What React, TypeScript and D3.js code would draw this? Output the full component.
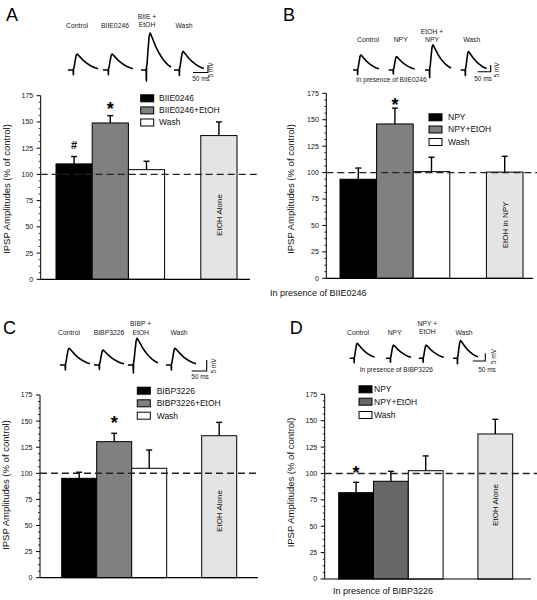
import React from "react";
import * as d3 from "d3";

const FONT = "'Liberation Sans', Arial, Helvetica, sans-serif";

// ---------- data ----------
const yTicks = [0, 25, 50, 75, 100, 125, 150, 175];
const slots = ["c0", "c1", "c2", "gap", "c3"];
const barSlots = ["c0", "c1", "c2", "c3"];

const legendA = ["BIIE0246", "BIIE0246+EtOH", "Wash"];
const meansA = [110, 149, 104.5, 137];
const errA = [7, 7, 8, 13];
const marksA = ["#", "*", "", ""];
const barTextA = "EtOH Alone";
const traceLabelsA = [["Control"], ["BIIE0246"], ["BIIE +", "EtOH"], ["Wash"]];
const traceAmpA = [11, 11, 25.5, 12.8];

const legendB = ["NPY", "NPY+EtOH", "Wash"];
const meansB = [93.7, 146, 100.9, 100.5];
const errB = [10.6, 15, 13.6, 14.9];
const marksB = ["", "*", "", ""];
const barTextB = "EtOH in NPY";
const traceLabelsB = [["Control"], ["NPY"], ["EtOH +", "NPY"], ["Wash"]];
const traceAmpB = [11.2, 9.9, 18.7, 13.7];
const noteB = "In presence of BIIE0246";

const legendC = ["BIBP3226", "BIBP3226+EtOH", "Wash"];
const meansC = [95.2, 130.3, 104.8, 136];
const errC = [5.8, 8, 17.5, 12.8];
const marksC = ["", "*", "", ""];
const barTextC = "EtOH Alone";
const traceLabelsC = [["Control"], ["BIBP3226"], ["BIBP +", "EtOH"], ["Wash"]];
const traceAmpC = [7.6, 6.8, 12.1, 7.6];

const legendD = ["NPY", "NPY+EtOH", "Wash"];
const meansD = [81.8, 92.6, 102.6, 137.4];
const errD = [9.8, 9.4, 14, 13.9];
const marksD = ["*", "", "", ""];
const barTextD = "EtOH Alone";
const traceLabelsD = [["Control"], ["NPY"], ["NPY +", "EtOH"], ["Wash"]];
const traceAmpD = [9.7, 8.6, 8.6, 11.5];
const noteD = "In presence of BIBP3226";

// normalised IPSP waveform (time ms, fraction of peak)
const waveT = [0, 14, 17, 18, 18.5, 20, 23, 27, 30, 33, 40, 50, 60, 70, 80, 90, 100];
const waveV = [0, 0, 0.02, -0.3, 0.1, 0.15, 0.5, 0.9, 1, 0.96, 0.82, 0.62, 0.46, 0.33, 0.22, 0.14, 0.08];
const scaleBarMs = 50;
const scaleBarMv = 5;
const yLabel = "IPSP Amplitudes (% of control)";

// ---------- layout ----------
const layA = {
  letter: "A", lx: 6, ly: 21,
  axisX: 40.7, y0: 279.3, y175: 95.7, barStart: 56, slot: 36.2, axisEnd: 250, dashEnd: 257,
  gray: "#808080", legX: 140.7, legTX: 159, legY: [98.3, 110.4, 122.5],
  ylx: 6.5, yly: 189, barTextY: 215, markOff: 11,
  trX: [68, 103, 141, 174], trBase: 70, pxMs: 0.3, pxMv: 1.45, labDx: [9, 12, 6, 10], labY: 26, labY2: [17, 25],
  sbX: 208, sbY: 72.5, msX: 201, msY: 79, mvX: 211, mvY: 70,
};
const layB = {
  letter: "B", lx: 283, ly: 21,
  axisX: 326.3, y0: 278.3, y175: 93.3, barStart: 340, slot: 36.6, axisEnd: 533, dashEnd: 537,
  gray: "#808080", legX: 429, legTX: 448, legY: [117.3, 129.5, 142],
  ylx: 290.5, yly: 189, barTextY: 225, markOff: 7.5,
  trX: [353, 388.7, 425, 460.7], trBase: 70, pxMs: 0.26, pxMv: 1.34, labDx: [15, 12, 7, 11], labY: 40, labY2: [31.7, 39.3],
  sbX: 490.7, sbY: 71.7, msX: 483, msY: 78.3, mvX: 497, mvY: 70,
  noteTopX: 391.3, noteTopY: 79.3, noteBotX: 270, noteBotY: 293,
};
const layC = {
  letter: "C", lx: 3, ly: 334,
  axisX: 40, y0: 577.7, y175: 395, barStart: 61.7, slot: 35, axisEnd: 258, dashEnd: 258,
  gray: "#808080", legX: 137.3, legTX: 156.7, legY: [390.7, 403.3, 415.7],
  ylx: 6, yly: 485, barTextY: 511, markOff: 15,
  trX: [60, 94, 128, 166], trBase: 365, pxMs: 0.3, pxMv: 2.2, labDx: [9, 15, 12.7, 13], labY: 332.3, labY2: [324, 332.3],
  sbX: 206.7, sbY: 371, msX: 200, msY: 376.3, mvX: 213.3, mvY: 366,
};
const layD = {
  letter: "D", lx: 289.7, ly: 334,
  axisX: 324.7, y0: 579, y175: 394.3, barStart: 338.7, slot: 34.8, axisEnd: 531, dashEnd: 537,
  gray: "#676767", legX: 359, legTX: 374, legY: [389.3, 401.7, 415],
  ylx: 290.3, yly: 482.5, barTextY: 505, markOff: 14,
  trX: [349.7, 386, 418.7, 453], trBase: 358.3, pxMs: 0.25, pxMv: 1.54, labDx: [8.3, 8.7, 8.6, 11], labY: 332.7, labY2: [324, 331.7],
  sbX: 485.3, sbY: 361, msX: 487, msY: 370, mvX: 493.5, mvY: 356.5,
  noteTopX: 396.3, noteTopY: 369.3, noteBotX: 333, noteBotY: 590.7,
};

type Lay = typeof layA & { noteTopX?: number; noteTopY?: number; noteBotX?: number; noteBotY?: number };

function Panel(props: {
  lay: Lay; legend: string[]; means: number[]; errs: number[]; marks: string[]; barText: string;
  traceLabels: string[][]; traceAmp: number[]; note?: string;
}) {
  const { lay, legend, means, errs, marks, barText, traceLabels, traceAmp, note } = props;
  const y = d3.scaleLinear().domain([0, 175]).range([lay.y0, lay.y175]);
  const x = d3.scaleBand<string>().domain(slots).range([lay.barStart, lay.barStart + lay.slot * slots.length]).padding(0);
  const fills = ["#000000", lay.gray, "#ffffff", "#e4e4e4"];
  const minor = d3.range(0, 175.01, 6.25).filter((v) => v % 25 !== 0);
  const tms = d3.scaleLinear().domain([0, 1]).range([0, lay.pxMs]);
  const tmv = d3.scaleLinear().domain([0, 1]).range([0, lay.pxMv]);
  const lineGen = d3.line<[number, number]>().x((d) => d[0]).y((d) => d[1]).curve(d3.curveLinear);

  return (
    <g fontFamily={FONT}>
      <text x={lay.lx} y={lay.ly} fontSize={18}>{lay.letter}</text>

      {/* traces */}
      {traceAmp.map((amp, i) => {
        const pts: [number, number][] = waveT.map((t, k) => [lay.trX[i] + tms(t), lay.trBase - tmv(amp * waveV[k])]);
        return <path key={"tr" + i} d={lineGen(pts) || ""} fill="none" stroke="#000" strokeWidth={1.6} strokeLinejoin="round" />;
      })}
      {traceLabels.map((lines, i) =>
        lines.map((s, j) => (
          <text key={"tl" + i + j} x={lay.trX[i] + lay.labDx[i]} y={(lines.length === 1 ? lay.labY : lay.labY2[j]) + 2.4}
            fontSize={6.8} textAnchor="middle" fill="#222">{s}</text>
        ))
      )}
      {/* scale bar */}
      <path d={`M${lay.sbX - tms(scaleBarMs)},${lay.sbY}H${lay.sbX}V${lay.sbY - tmv(scaleBarMv)}`} fill="none" stroke="#000" strokeWidth={1.1} />
      <text x={lay.msX} y={lay.msY + 2.3} fontSize={6.5} textAnchor="middle" fill="#222">{scaleBarMs} ms</text>
      <text transform={`translate(${lay.mvX},${lay.mvY}) rotate(-90)`} dy="0.35em" fontSize={6.5} textAnchor="middle" fill="#222">{scaleBarMv} mV</text>
      {note && lay.noteTopX !== undefined && (
        <text x={lay.noteTopX} y={(lay.noteTopY as number) + 2.3} fontSize={6.6} textAnchor="middle" fill="#222">{note}</text>
      )}
      {note && lay.noteBotX !== undefined && (
        <text x={lay.noteBotX} y={(lay.noteBotY as number) + 3.2} fontSize={9} fill="#111">{note}</text>
      )}

      {/* bars */}
      {barSlots.map((s, i) => (
        <rect key={"b" + i} x={x(s)} y={y(means[i])} width={x.bandwidth()} height={y(0) - y(means[i])}
          fill={fills[i]} stroke="#000" strokeWidth={1} />
      ))}
      {barSlots.map((s, i) => {
        const cx = (x(s) as number) + x.bandwidth() / 2;
        return (
          <g key={"e" + i} stroke="#000" strokeWidth={1.4}>
            <line x1={cx} x2={cx} y1={y(means[i])} y2={y(means[i] + errs[i])} />
            <line x1={cx - 3} x2={cx + 3} y1={y(means[i] + errs[i])} y2={y(means[i] + errs[i])} />
          </g>
        );
      })}
      {barSlots.map((s, i) => {
        if (!marks[i]) return null;
        const cx = (x(s) as number) + x.bandwidth() / 2;
        const cy = y(means[i] + errs[i]) - lay.markOff;
        return marks[i] === "*" ? (
          <text key={"m" + i} x={cx} y={cy + 10.4} fontSize={18} fontWeight="bold" textAnchor="middle">*</text>
        ) : (
          <text key={"m" + i} x={cx} y={cy + 3.9} fontSize={11} fontWeight="bold" textAnchor="middle">{marks[i]}</text>
        );
      })}
      <text transform={`translate(${(x("c3") as number) + x.bandwidth() / 2},${lay.barTextY}) rotate(-90)`} dy="0.35em"
        fontSize={8} textAnchor="middle" fill="#111">{barText}</text>

      {/* dashed control line */}
      <line x1={lay.axisX} x2={lay.dashEnd} y1={y(100)} y2={y(100)} stroke="#222" strokeWidth={1.4} strokeDasharray="7,4" />

      {/* axes */}
      <line x1={lay.axisX} x2={lay.axisX} y1={y(0)} y2={y(175)} stroke="#000" strokeWidth={1} />
      <line x1={lay.axisX} x2={lay.axisEnd} y1={y(0)} y2={y(0)} stroke="#000" strokeWidth={1.2} />
      {yTicks.map((t) => (
        <g key={"t" + t}>
          <line x1={lay.axisX - 4} x2={lay.axisX} y1={y(t)} y2={y(t)} stroke="#000" strokeWidth={1} />
          <text x={lay.axisX - 7.5} y={y(t)} dy="0.35em" fontSize={7} textAnchor="end" fill="#111">{t}</text>
        </g>
      ))}
      {minor.map((t) => (
        <line key={"mt" + t} x1={lay.axisX - 2} x2={lay.axisX} y1={y(t)} y2={y(t)} stroke="#000" strokeWidth={0.8} />
      ))}
      <text transform={`translate(${lay.ylx},${lay.yly}) rotate(-90)`} dy="0.35em" fontSize={9.5} textAnchor="middle" fill="#111">{yLabel}</text>

      {/* legend */}
      {legend.map((s, i) => (
        <g key={"l" + i}>
          <rect x={lay.legX} y={lay.legY[i] - 3.5} width={13} height={7} fill={fills[i]} stroke="#000" strokeWidth={1} />
          <text x={lay.legTX} y={lay.legY[i]} dy="0.35em" fontSize={8.5} fill="#111">{s}</text>
        </g>
      ))}
    </g>
  );
}

export default function App() {
  return (
    <svg width={537} height={600} viewBox="0 0 537 600" style={{ position: "absolute", left: 0, top: 0, background: "#fff" }}>
      <rect width={537} height={600} fill="#fff" />
      <Panel lay={layA} legend={legendA} means={meansA} errs={errA} marks={marksA} barText={barTextA} traceLabels={traceLabelsA} traceAmp={traceAmpA} />
      <Panel lay={layB} legend={legendB} means={meansB} errs={errB} marks={marksB} barText={barTextB} traceLabels={traceLabelsB} traceAmp={traceAmpB} note={noteB} />
      <Panel lay={layC} legend={legendC} means={meansC} errs={errC} marks={marksC} barText={barTextC} traceLabels={traceLabelsC} traceAmp={traceAmpC} />
      <Panel lay={layD} legend={legendD} means={meansD} errs={errD} marks={marksD} barText={barTextD} traceLabels={traceLabelsD} traceAmp={traceAmpD} note={noteD} />
    </svg>
  );
}
